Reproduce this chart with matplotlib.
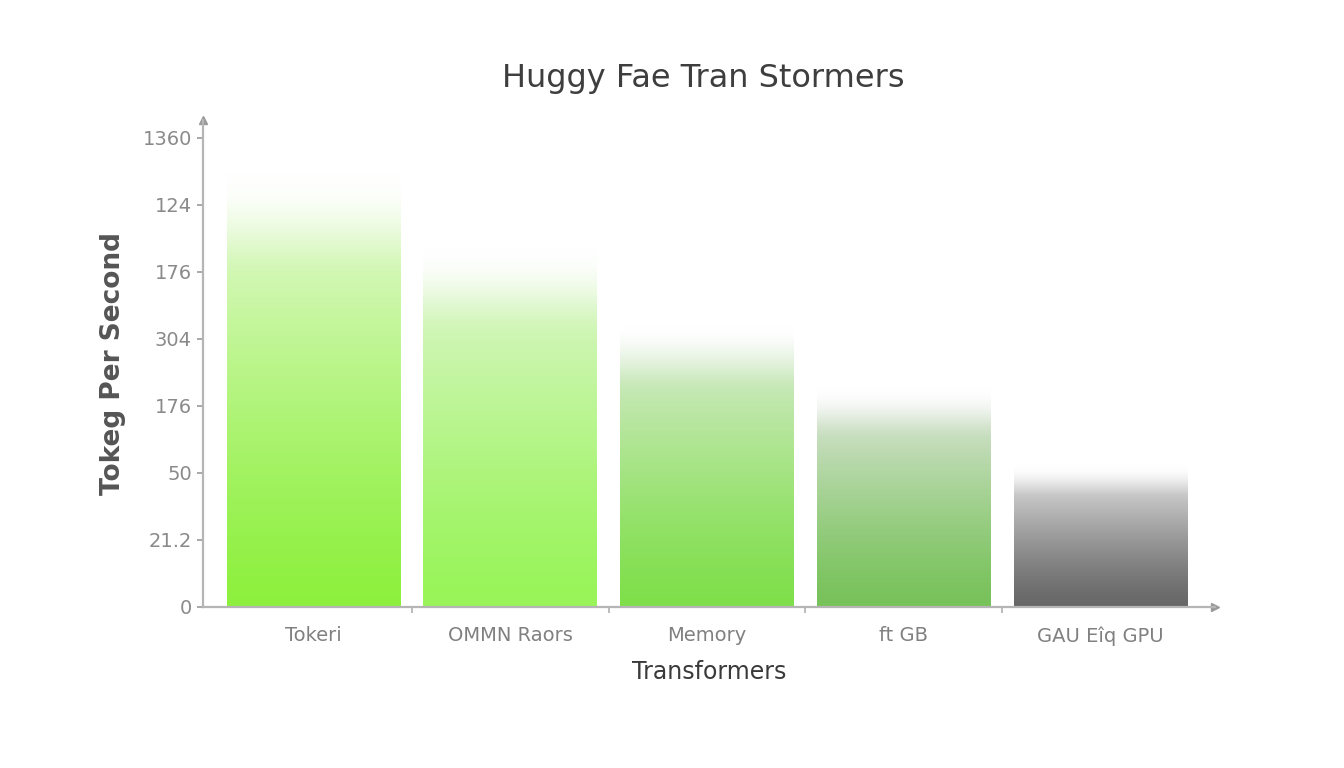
import numpy as np
import matplotlib
matplotlib.use("Agg")
import matplotlib.pyplot as plt
from matplotlib.colors import to_rgb

# ---- data ----
categories = ["Tokeri", "OMMN Raors", "Memory", "ft GB", "GAU Eîq GPU"]
values = [6.55, 5.4, 4.25, 3.3, 2.15]          # bar heights in axis position units
ytick_labels = ["0", "21.2", "50", "176", "304", "176", "124", "1360"]
bottom_colors = ["#8ef03e", "#98f458", "#7fdf4a", "#78c25a", "#676767"]
top_colors = ["#eefbe4", "#e6f7dc", "#e2ece0", "#e6e9e6", "#ececec"]

title = "Huggy Fae Tran Stormers"
xlabel = "Transformers"
ylabel = "Tokeg Per Second"

fig = plt.figure(figsize=(13.44, 7.68), dpi=100)
fig.patch.set_facecolor("white")
ax = fig.add_axes([0.151, 0.210, 0.753, 0.634])

x = np.arange(len(categories))
bars = ax.bar(x, values, width=0.88, color="none", edgecolor="none")

n = 256
for bar, cb, ct in zip(bars, bottom_colors, top_colors):
    t = np.linspace(0, 1, n)
    c0 = np.array(to_rgb(cb))
    c1 = np.array(to_rgb(ct))
    tt = t ** 1.3
    rgb = c0[None, :] * (1 - tt[:, None]) + c1[None, :] * tt[:, None]
    a = np.clip((1 - t) / 0.25, 0, 1)
    alpha = a * a * (3 - 2 * a)
    img = np.concatenate([rgb, alpha[:, None]], axis=1)[:, None, :]
    bx, bw, bh = bar.get_x(), bar.get_width(), bar.get_height()
    ax.imshow(img, extent=[bx, bx + bw, 0, bh], origin="lower",
              aspect="auto", interpolation="bilinear", zorder=2)

ax.set_xlim(-0.56, 4.58)
ax.set_ylim(0, 7.27)

ax.set_yticks(np.arange(len(ytick_labels)))
ax.set_yticklabels(ytick_labels)
ax.set_xticks(x)
ax.set_xticklabels(categories)
ax.set_xticks(np.arange(len(categories) - 1) + 0.5, minor=True)

ax.tick_params(axis="y", colors="#9a9a9a", labelsize=14, length=4, width=1.2,
               labelcolor="#8a8a8a", pad=4)
ax.tick_params(axis="x", which="major", length=0, labelsize=14,
               labelcolor="#808080", pad=14)
ax.tick_params(axis="x", which="minor", length=4, width=1.2, color="#b0b0b0")

for s in ["top", "right"]:
    ax.spines[s].set_visible(False)
for s in ["left", "bottom"]:
    ax.spines[s].set_color("#b5b5b5")
    ax.spines[s].set_linewidth(1.6)

# arrow heads on the axes
ax.plot(1, 0, ">", transform=ax.transAxes, color="#9a9a9a", markersize=6,
        clip_on=False)
ax.plot(0, 1, "^", transform=ax.transAxes, color="#9a9a9a", markersize=6,
        clip_on=False)

ax.set_xlabel(xlabel, fontsize=17, color="#3a3a3a", labelpad=10)
ax.set_ylabel(ylabel, fontsize=19, color="#555555", fontweight="bold",
              labelpad=12)
fig.text(0.523, 0.898, title, ha="center", va="center", fontsize=23,
         color="#3e3e3e")

fig.savefig("out.png", dpi=100, facecolor="white")
